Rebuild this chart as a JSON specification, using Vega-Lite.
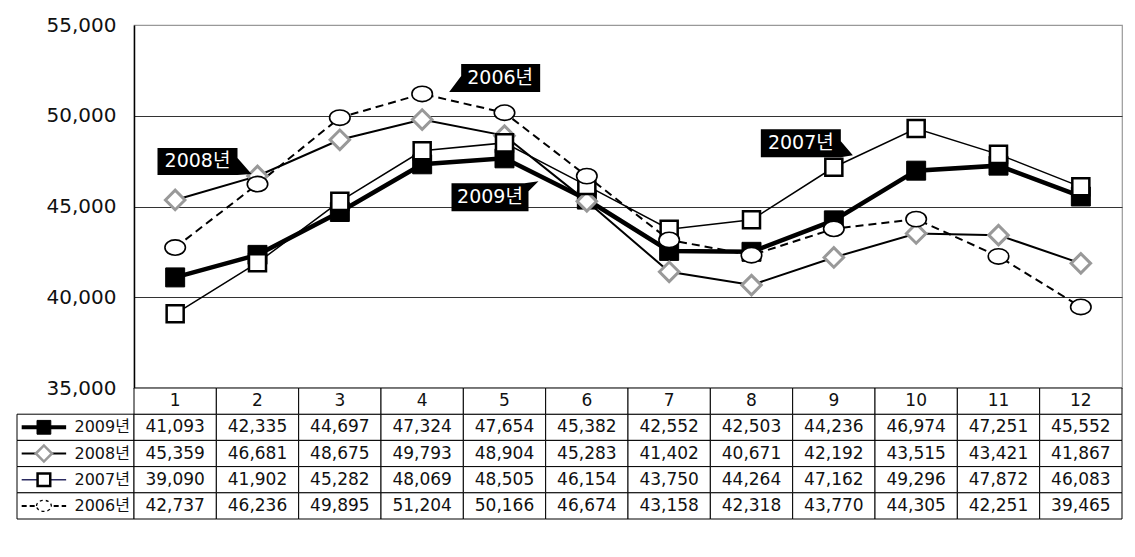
{
  "$schema": "https://vega.github.io/schema/vega-lite/v6.json",
  "background": "white",
  "padding": {"left": 16, "top": 14, "right": 14, "bottom": 0},
  "config": {
    "view": {"stroke": null},
    "font": "'DejaVu Sans', 'Noto Sans CJK KR'"
  },
  "datasets": {
    "d": [
      {"series": "2009년", "month": 1, "value": 41093},
      {"series": "2009년", "month": 2, "value": 42335},
      {"series": "2009년", "month": 3, "value": 44697},
      {"series": "2009년", "month": 4, "value": 47324},
      {"series": "2009년", "month": 5, "value": 47654},
      {"series": "2009년", "month": 6, "value": 45382},
      {"series": "2009년", "month": 7, "value": 42552},
      {"series": "2009년", "month": 8, "value": 42503},
      {"series": "2009년", "month": 9, "value": 44236},
      {"series": "2009년", "month": 10, "value": 46974},
      {"series": "2009년", "month": 11, "value": 47251},
      {"series": "2009년", "month": 12, "value": 45552},
      {"series": "2008년", "month": 1, "value": 45359},
      {"series": "2008년", "month": 2, "value": 46681},
      {"series": "2008년", "month": 3, "value": 48675},
      {"series": "2008년", "month": 4, "value": 49793},
      {"series": "2008년", "month": 5, "value": 48904},
      {"series": "2008년", "month": 6, "value": 45283},
      {"series": "2008년", "month": 7, "value": 41402},
      {"series": "2008년", "month": 8, "value": 40671},
      {"series": "2008년", "month": 9, "value": 42192},
      {"series": "2008년", "month": 10, "value": 43515},
      {"series": "2008년", "month": 11, "value": 43421},
      {"series": "2008년", "month": 12, "value": 41867},
      {"series": "2007년", "month": 1, "value": 39090},
      {"series": "2007년", "month": 2, "value": 41902},
      {"series": "2007년", "month": 3, "value": 45282},
      {"series": "2007년", "month": 4, "value": 48069},
      {"series": "2007년", "month": 5, "value": 48505},
      {"series": "2007년", "month": 6, "value": 46154},
      {"series": "2007년", "month": 7, "value": 43750},
      {"series": "2007년", "month": 8, "value": 44264},
      {"series": "2007년", "month": 9, "value": 47162},
      {"series": "2007년", "month": 10, "value": 49296},
      {"series": "2007년", "month": 11, "value": 47872},
      {"series": "2007년", "month": 12, "value": 46083},
      {"series": "2006년", "month": 1, "value": 42737},
      {"series": "2006년", "month": 2, "value": 46236},
      {"series": "2006년", "month": 3, "value": 49895},
      {"series": "2006년", "month": 4, "value": 51204},
      {"series": "2006년", "month": 5, "value": 50166},
      {"series": "2006년", "month": 6, "value": 46674},
      {"series": "2006년", "month": 7, "value": 43158},
      {"series": "2006년", "month": 8, "value": 42318},
      {"series": "2006년", "month": 9, "value": 43770},
      {"series": "2006년", "month": 10, "value": 44305},
      {"series": "2006년", "month": 11, "value": 42251},
      {"series": "2006년", "month": 12, "value": 39465}
    ]
  },
  "bounds": "flush",
  "spacing": 363,
  "vconcat": [
    {
      "bounds": "flush",
      "spacing": 0,
      "hconcat": [
        {
          "width": 117,
          "height": 363,
          "view": {"stroke": null},
          "data": {"values": [{"a": 1}]},
          "mark": {"type": "point", "opacity": 0}
        },
        {
          "width": 988,
          "height": 363,
          "view": {"stroke": "#999999", "strokeWidth": 1.2},
          "data": {"name": "d"},
          "encoding": {
            "x": {"field": "month", "type": "ordinal", "scale": {"type": "point", "padding": 0.5}, "axis": null},
            "y": {
              "field": "value", "type": "quantitative",
              "scale": {"domain": [35000, 55000], "nice": false, "zero": false},
              "axis": {
                "title": null,
                "values": [35000, 40000, 45000, 50000, 55000],
                "labelExpr": "format(datum.value, ',')",
                "labelFontSize": 20,
                "labelColor": "#111",
                "labelPadding": 18,
                "ticks": false,
                "tickSize": 0,
                "domainColor": "#000000",
                "domainWidth": 1.5,
                "grid": true,
                "gridColor": "#333333",
                "gridWidth": 1,
                "gridOpacity": {"condition": {"test": "datum.value === 55000 || datum.value === 35000", "value": 0}, "value": 1}
              }
            }
          },
          "layer": [
            {
              "transform": [{"filter": "datum.series == '2009년'"}],
              "mark": {"type": "line", "color": "black", "strokeWidth": 4.5}
            },
            {
              "transform": [{"filter": "datum.series == '2008년'"}],
              "mark": {"type": "line", "color": "black", "strokeWidth": 2}
            },
            {
              "transform": [{"filter": "datum.series == '2007년'"}],
              "mark": {"type": "line", "color": "black", "strokeWidth": 1.5}
            },
            {
              "transform": [{"filter": "datum.series == '2006년'"}],
              "mark": {"type": "line", "color": "black", "strokeWidth": 2, "strokeDash": [8, 5]}
            },
            {
              "transform": [{"filter": "datum.series == '2009년'"}],
              "mark": {"type": "point", "filled": true, "opacity": 1, "shape": "square", "size": 360, "fill": "black", "stroke": "black", "strokeWidth": 1}
            },
            {
              "transform": [{"filter": "datum.series == '2008년'"}],
              "mark": {"type": "point", "filled": true, "opacity": 1, "shape": "diamond", "size": 380, "fill": "white", "stroke": "#999999", "strokeWidth": 3}
            },
            {
              "transform": [{"filter": "datum.series == '2007년'"}],
              "mark": {"type": "point", "filled": true, "opacity": 1, "shape": "square", "size": 290, "fill": "white", "stroke": "black", "strokeWidth": 2.5}
            },
            {
              "transform": [{"filter": "datum.series == '2006년'"}],
              "mark": {"type": "point", "filled": true, "opacity": 1, "shape": "M-1,0A1,0.75 0 1,1 1,0A1,0.75 0 1,1 -1,0Z", "size": 420, "fill": "white", "stroke": "black", "strokeWidth": 1.6}
            },
            {
              "transform": [{"filter": "datum.series == '2006년' && datum.month == 4"}],
              "mark": {"type": "point", "filled": true, "opacity": 1, "color": "black", "size": 4, "shape": "M39,-30L118,-30L118,-2L27,-2L39,-18Z"}
            },
            {
              "transform": [{"filter": "datum.series == '2006년' && datum.month == 4"}],
              "mark": {"type": "text", "color": "white", "fontSize": 19, "dx": 78, "dy": -16},
              "encoding": {"text": {"field": "series"}}
            },
            {
              "transform": [{"filter": "datum.series == '2007년' && datum.month == 9"}],
              "mark": {"type": "point", "filled": true, "opacity": 1, "color": "black", "size": 4, "shape": "M-73,-38L7,-38L7,-26L19,-12L7,-10L-73,-10Z"}
            },
            {
              "transform": [{"filter": "datum.series == '2007년' && datum.month == 9"}],
              "mark": {"type": "text", "color": "white", "fontSize": 19, "dx": -33, "dy": -24},
              "encoding": {"text": {"field": "series"}}
            },
            {
              "transform": [{"filter": "datum.series == '2008년' && datum.month == 2"}],
              "mark": {"type": "point", "filled": true, "opacity": 1, "color": "black", "size": 4, "shape": "M-100,-28L-20,-28L-20,-18L-6,-2L-20,-1L-100,-1Z"}
            },
            {
              "transform": [{"filter": "datum.series == '2008년' && datum.month == 2"}],
              "mark": {"type": "text", "color": "white", "fontSize": 19, "dx": -60, "dy": -14.5},
              "encoding": {"text": {"field": "series"}}
            },
            {
              "transform": [{"filter": "datum.series == '2009년' && datum.month == 5"}],
              "mark": {"type": "point", "filled": true, "opacity": 1, "color": "black", "size": 4, "shape": "M-53,25L20,25L34,23L24,33L24,53L-53,53Z"}
            },
            {
              "transform": [{"filter": "datum.series == '2009년' && datum.month == 5"}],
              "mark": {"type": "text", "color": "white", "fontSize": 19, "dx": -14.5, "dy": 39},
              "encoding": {"text": {"field": "series"}}
            }
          ]
        }
      ]
    },
    {
      "bounds": "flush",
      "spacing": 0,
      "hconcat": [
        {
          "width": 117,
          "height": 131,
          "view": {"stroke": null},
          "data": {"name": "d"},
          "transform": [{"filter": "datum.month == 1"}],
          "encoding": {
            "y": {"field": "series", "type": "nominal", "scale": {"domain": ["hdr", "2009년", "2008년", "2007년", "2006년"], "paddingInner": 0, "paddingOuter": 0}, "axis": null}
          },
          "layer": [
            {
              "mark": {"type": "rect", "fill": "white", "stroke": "black", "strokeWidth": 1},
              "encoding": {
                "x": {"datum": 0, "type": "quantitative", "scale": {"domain": [0, 1]}, "axis": null},
                "x2": {"datum": 1}
              }
            },
            {
              "transform": [{"filter": "datum.series == '2009년'"}],
              "mark": {"type": "rule", "color": "black", "strokeWidth": 4},
              "encoding": {"x": {"datum": 0.04, "type": "quantitative"}, "x2": {"datum": 0.42}}
            },
            {
              "transform": [{"filter": "datum.series == '2008년'"}],
              "mark": {"type": "rule", "color": "black", "strokeWidth": 2},
              "encoding": {"x": {"datum": 0.04, "type": "quantitative"}, "x2": {"datum": 0.42}}
            },
            {
              "transform": [{"filter": "datum.series == '2007년'"}],
              "mark": {"type": "rule", "color": "#2a2a60", "strokeWidth": 1.5},
              "encoding": {"x": {"datum": 0.04, "type": "quantitative"}, "x2": {"datum": 0.42}}
            },
            {
              "transform": [{"filter": "datum.series == '2006년'"}],
              "mark": {"type": "rule", "color": "black", "strokeWidth": 2, "strokeDash": [5, 3]},
              "encoding": {"x": {"datum": 0.04, "type": "quantitative"}, "x2": {"datum": 0.42}}
            },
            {
              "transform": [{"filter": "datum.series == '2009년'"}],
              "mark": {"type": "point", "filled": true, "opacity": 1, "shape": "square", "size": 190, "fill": "black", "stroke": "black", "strokeWidth": 1},
              "encoding": {"x": {"datum": 0.23, "type": "quantitative"}}
            },
            {
              "transform": [{"filter": "datum.series == '2008년'"}],
              "mark": {"type": "point", "filled": true, "opacity": 1, "shape": "diamond", "size": 260, "fill": "white", "stroke": "#999999", "strokeWidth": 2.5},
              "encoding": {"x": {"datum": 0.23, "type": "quantitative"}}
            },
            {
              "transform": [{"filter": "datum.series == '2007년'"}],
              "mark": {"type": "point", "filled": true, "opacity": 1, "shape": "square", "size": 160, "fill": "white", "stroke": "black", "strokeWidth": 2.5},
              "encoding": {"x": {"datum": 0.23, "type": "quantitative"}}
            },
            {
              "transform": [{"filter": "datum.series == '2006년'"}],
              "mark": {"type": "point", "filled": true, "opacity": 1, "shape": "M-1,0A1,0.75 0 1,1 1,0A1,0.75 0 1,1 -1,0Z", "size": 220, "fill": "white", "stroke": "black", "strokeWidth": 1.3, "strokeDash": [3, 3]},
              "encoding": {"x": {"datum": 0.23, "type": "quantitative"}}
            },
            {
              "mark": {"type": "text", "align": "right", "fontSize": 16, "color": "#111"},
              "encoding": {
                "x": {"datum": 0.965, "type": "quantitative"},
                "text": {"field": "series"}
              }
            }
          ]
        },
        {
          "width": 988,
          "height": 131,
          "view": {"stroke": null},
          "data": {"name": "d"},
          "layer": [
            {
              "mark": {"type": "rect", "fill": "white", "stroke": "black", "strokeWidth": 1},
              "encoding": {
                "x": {"field": "month", "type": "ordinal", "scale": {"type": "band", "paddingInner": 0, "paddingOuter": 0}, "axis": null},
                "y": {"field": "series", "type": "nominal", "scale": {"domain": ["hdr", "2009년", "2008년", "2007년", "2006년"], "paddingInner": 0, "paddingOuter": 0}, "axis": null}
              }
            },
            {
              "mark": {"type": "text", "fontSize": 17, "color": "#111"},
              "encoding": {
                "x": {"field": "month", "type": "ordinal"},
                "y": {"field": "series", "type": "nominal"},
                "text": {"field": "value", "type": "quantitative", "format": ","}
              }
            },
            {
              "transform": [{"filter": "datum.series == '2009년'"}],
              "mark": {"type": "rect", "fill": "white", "stroke": "black", "strokeWidth": 1},
              "encoding": {
                "x": {"field": "month", "type": "ordinal"},
                "y": {"datum": "hdr", "type": "nominal"}
              }
            },
            {
              "transform": [{"filter": "datum.series == '2009년'"}],
              "mark": {"type": "text", "fontSize": 17, "color": "#111"},
              "encoding": {
                "x": {"field": "month", "type": "ordinal"},
                "y": {"datum": "hdr", "type": "nominal"},
                "text": {"field": "month", "type": "ordinal"}
              }
            }
          ]
        }
      ]
    }
  ]
}
